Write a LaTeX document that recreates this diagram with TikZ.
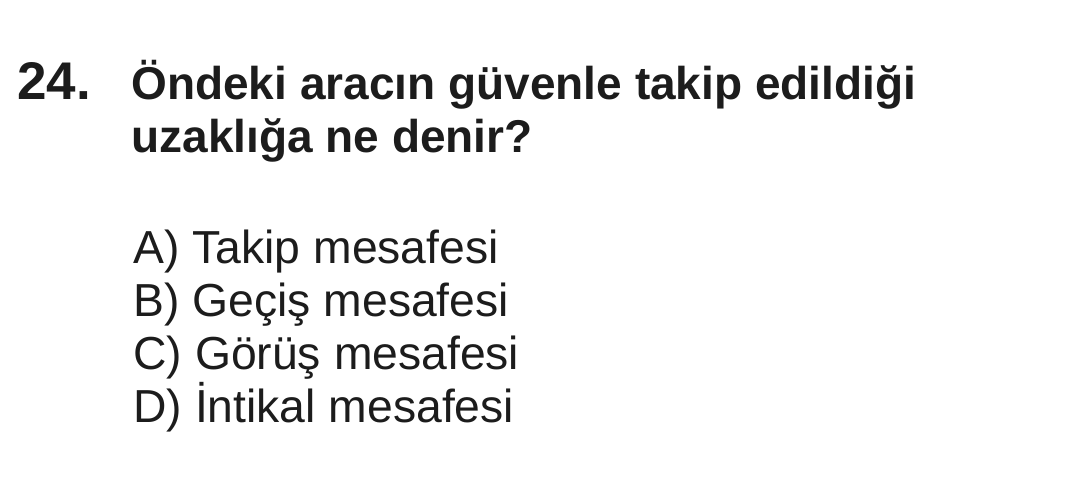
\documentclass[tikz,border=0pt]{standalone}
\usepackage{fontspec}
\setmainfont{Liberation Sans}
\usepackage{tikz}
\definecolor{qtext}{HTML}{1C1C1C}

\begin{document}
\begin{tikzpicture}[x=1pt,y=1pt,
        qline/.style={anchor=base west,inner sep=0pt,text=qtext,font=\fontsize{23.15}{26.5}\selectfont},
        qbold/.style={qline,font=\fontsize{23}{26.5}\selectfont\bfseries}]
        \useasboundingbox (0,0) rectangle (535,245);
        \node[qbold,font=\fontsize{26.5}{30}\selectfont\bfseries] (num) at (8.5,195) {24.};
        \node[qbold] (q1) at (65.5,195) {Öndeki aracın güvenle takip edildiği};
        \node[qbold] (q2) at (65.5,168.5) {uzaklığa ne denir?};
        \foreach \y/\name/\txt in {113/optA/{A) Takip mesafesi}, 86.5/optB/{B) Geçiş mesafesi},
                60/optC/{C) Görüş mesafesi}, 33.5/optD/{D) İntikal mesafesi}}
            \node[qline] (\name) at (66.5,\y) {\txt};
    \end{tikzpicture}
\end{document}
